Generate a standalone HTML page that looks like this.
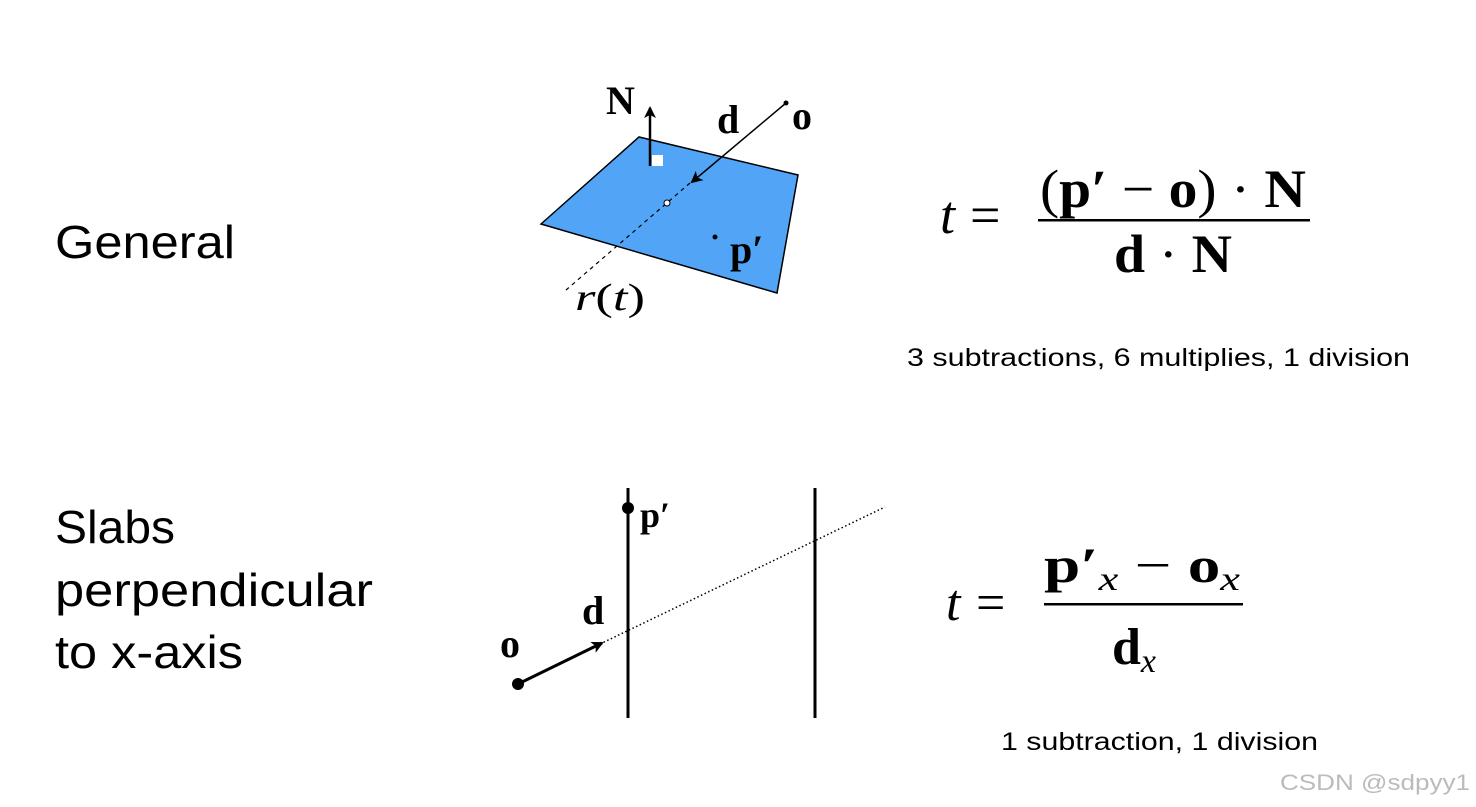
<!DOCTYPE html>
<html><head><meta charset="utf-8"><style>
html,body{margin:0;padding:0;background:#fff;width:1476px;height:807px;overflow:hidden}
svg{display:block}
</style></head><body>
<svg width="1476" height="807" viewBox="0 0 1476 807" xmlns="http://www.w3.org/2000/svg">
<defs>
<marker id="ah" markerWidth="12" markerHeight="12" refX="10" refY="6" orient="auto" markerUnits="userSpaceOnUse"><path d="M0,0 L12,6 L0,12 L3,6 Z" fill="#000"/></marker>
</defs>
<g font-family="Liberation Sans, sans-serif" fill="#000">
<text x="55" y="258" font-size="46" textLength="180" lengthAdjust="spacingAndGlyphs">General</text>
<text x="55" y="543" font-size="46" textLength="120" lengthAdjust="spacingAndGlyphs">Slabs</text>
<text x="55" y="606" font-size="46" textLength="318" lengthAdjust="spacingAndGlyphs">perpendicular</text>
<text x="55" y="668" font-size="46" textLength="188" lengthAdjust="spacingAndGlyphs">to x-axis</text>
<text x="907" y="366" font-size="25" textLength="503" lengthAdjust="spacingAndGlyphs">3 subtractions, 6 multiplies, 1 division</text>
<text x="1001" y="750" font-size="25" textLength="317" lengthAdjust="spacingAndGlyphs">1 subtraction, 1 division</text>
<text x="1280" y="790" font-size="22" fill="#bbb" textLength="190" lengthAdjust="spacingAndGlyphs">CSDN @sdpyy1</text>
</g>
<!-- plane diagram -->
<polygon points="541,224 639,137 798,175 777,293" fill="#52a5f6" stroke="#000" stroke-width="1.5"/>
<line x1="690" y1="183" x2="566" y2="290" stroke="#000" stroke-width="1.2" stroke-dasharray="4,4"/>
<line x1="786" y1="103" x2="692" y2="182" stroke="#000" stroke-width="1.5" marker-end="url(#ah)"/>
<circle cx="786" cy="103" r="2.5"/>
<line x1="650" y1="166" x2="650" y2="108" stroke="#000" stroke-width="2.5" marker-end="url(#ah)"/>
<rect x="652" y="155" width="11" height="11" fill="#fff"/>
<circle cx="667" cy="203" r="3" fill="#fff" stroke="#000" stroke-width="1"/>
<circle cx="715" cy="237" r="2.5"/>
<g font-family="Liberation Serif, serif" font-weight="bold" fill="#000">
<text x="606" y="114" font-size="40">N</text>
<text x="717" y="133" font-size="40">d</text>
<text x="792" y="129" font-size="40">o</text>
<text x="730" y="263" font-size="40">p′</text>
</g>
<text x="575" y="310" font-family="Liberation Serif, serif" font-style="italic" font-size="38" textLength="70" lengthAdjust="spacingAndGlyphs">r<tspan font-style="normal">(</tspan>t<tspan font-style="normal">)</tspan></text>
<!-- slabs -->
<line x1="628" y1="488" x2="628" y2="718" stroke="#000" stroke-width="3"/>
<line x1="815" y1="488" x2="815" y2="718" stroke="#000" stroke-width="3"/>
<line x1="600" y1="644" x2="885" y2="507" stroke="#000" stroke-width="1.5" stroke-dasharray="1.5,2.5"/>
<line x1="518" y1="684" x2="602" y2="643" stroke="#000" stroke-width="3" marker-end="url(#ah)"/>
<circle cx="518" cy="684" r="6"/>
<circle cx="628" cy="508" r="6"/>
<g font-family="Liberation Serif, serif" font-weight="bold" fill="#000">
<text x="640" y="527" font-size="36">p′</text>
<text x="582" y="624" font-size="40">d</text>
<text x="500" y="657" font-size="40">o</text>
</g>
<!-- formula 1 -->
<g font-family="Liberation Serif, serif" fill="#000">
<text x="940" y="233" font-size="54" font-style="italic">t</text>
<text x="970" y="233" font-size="54">=</text>
<text x="1040" y="207" font-size="54" textLength="266" lengthAdjust="spacingAndGlyphs"><tspan>(</tspan><tspan font-weight="bold">p′</tspan><tspan> − </tspan><tspan font-weight="bold">o</tspan><tspan>) · </tspan><tspan font-weight="bold">N</tspan></text>
<rect x="1038" y="219" width="272" height="2.5"/>
<text x="1114" y="272" font-size="54" textLength="118" lengthAdjust="spacingAndGlyphs"><tspan font-weight="bold">d</tspan> · <tspan font-weight="bold">N</tspan></text>
<!-- formula 2 -->
<text x="946" y="620" font-size="52" font-style="italic">t</text>
<text x="976" y="620" font-size="52">=</text>
<text x="1044" y="582" font-size="50" textLength="196" lengthAdjust="spacingAndGlyphs"><tspan font-weight="bold">p′</tspan><tspan font-style="italic" font-size="34" dy="8">x</tspan><tspan dy="-8"> − </tspan><tspan font-weight="bold">o</tspan><tspan font-style="italic" font-size="34" dy="8">x</tspan></text>
<rect x="1044" y="603" width="199" height="2.5"/>
<text x="1112" y="664" font-size="52"><tspan font-weight="bold">d</tspan><tspan font-style="italic" font-size="34" dy="8">x</tspan></text>
</g>
</svg>
</body></html>
